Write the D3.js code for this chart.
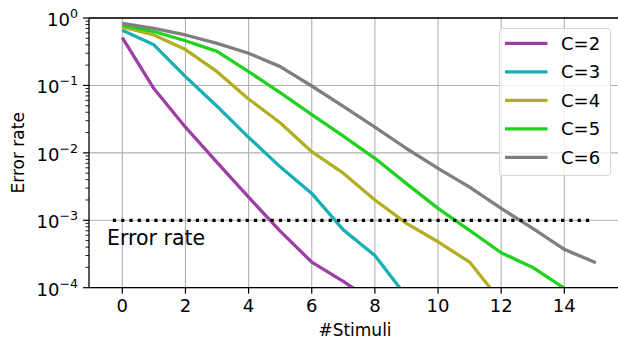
<!DOCTYPE html>
<html>
<head>
<meta charset="utf-8">
<script src="https://cdn.jsdelivr.net/npm/d3@7"></script>
<style>
  html, body { margin: 0; padding: 0; background: #fff; }
  svg { display: block; font-family: 'DejaVu Sans', sans-serif; }
</style>
</head>
<body>
<div id="chart"></div>
<script>
// error rate per number of stimuli, one array per class count
const seriesNames = ['C=2', 'C=3', 'C=4', 'C=5', 'C=6'];
const seriesColors = ['#9e3fa6', '#18afb5', '#b3ae1f', '#1fd21f', '#7f7f7f'];
const errC2 = [0.51, 0.09, 0.024, 0.0072, 0.0022, 0.00069, 0.00024, 0.000124, 0.00006];
const errC3 = [0.66, 0.40, 0.135, 0.049, 0.017, 0.0062, 0.0025, 0.00072, 0.00030, 0.000074];
const errC4 = [0.74, 0.56, 0.34, 0.16, 0.063, 0.028, 0.0104, 0.0050, 0.0020, 0.0009, 0.00048, 0.00024, 0.000062];
const errC5 = [0.79, 0.63, 0.46, 0.32, 0.16, 0.078, 0.037, 0.0177, 0.0083, 0.0035, 0.0015, 0.00071, 0.00033, 0.00020, 0.000098];
const errC6 = [0.83, 0.70, 0.56, 0.42, 0.30, 0.19, 0.098, 0.049, 0.024, 0.0116, 0.0059, 0.0031, 0.0015, 0.00076, 0.00037, 0.000235];
const allSeries = [errC2, errC3, errC4, errC5, errC6];

const threshold = 1e-3;
const thresholdSpan = [-0.3, 14.8];
const xTicks = [0, 2, 4, 6, 8, 10, 12, 14];
const yExponents = [0, -1, -2, -3, -4];

const width = 618, height = 342;
const margin = { top: 18, left: 89, bottom: 287.7, right: 618 };

const svg = d3.select('#chart').append('svg')
  .attr('width', width)
  .attr('height', height);

const x = d3.scaleLinear().domain([-1.055, 15.7]).range([margin.left, margin.right]);
const y = d3.scaleLog().domain([1e-4, 1]).range([margin.bottom, margin.top]);

svg.append('defs').append('clipPath').attr('id', 'plotClip')
  .append('rect')
  .attr('x', margin.left).attr('y', margin.top)
  .attr('width', margin.right - margin.left).attr('height', margin.bottom - margin.top);

// grid
const grid = svg.append('g').attr('stroke', '#b0b0b0').attr('stroke-width', 1.1);
grid.selectAll('line.vx').data(xTicks).join('line')
  .attr('x1', d => x(d)).attr('x2', d => x(d))
  .attr('y1', margin.top).attr('y2', margin.bottom);
grid.selectAll('line.hy').data(yExponents).join('line')
  .attr('x1', margin.left).attr('x2', margin.right)
  .attr('y1', d => y(Math.pow(10, d))).attr('y2', d => y(Math.pow(10, d)));

// series lines
const line = d3.line().x((d, i) => x(i)).y(d => y(d));
const plot = svg.append('g').attr('clip-path', 'url(#plotClip)');
plot.selectAll('path.series').data(allSeries).join('path')
  .attr('fill', 'none')
  .attr('stroke', (d, i) => seriesColors[i])
  .attr('stroke-width', 3.3)
  .attr('stroke-linejoin', 'round')
  .attr('d', line);

// threshold line
plot.append('line')
  .attr('x1', x(thresholdSpan[0])).attr('x2', x(thresholdSpan[1]))
  .attr('y1', y(threshold)).attr('y2', y(threshold))
  .attr('stroke', '#000').attr('stroke-width', 3.3)
  .attr('stroke-dasharray', '3.2,5.1');

svg.append('text')
  .attr('x', 107).attr('y', 245)
  .attr('font-size', 20.5)
  .text('Error rate');

// spines
const spines = svg.append('g').attr('stroke', '#000').attr('stroke-width', 1.3);
spines.append('line').attr('x1', margin.left).attr('x2', margin.left).attr('y1', margin.top).attr('y2', margin.bottom);
spines.append('line').attr('x1', margin.left).attr('x2', margin.right).attr('y1', margin.top).attr('y2', margin.top);
spines.append('line').attr('x1', margin.left).attr('x2', margin.right).attr('y1', margin.bottom).attr('y2', margin.bottom);

// x axis
const xAxis = svg.append('g');
xAxis.selectAll('line').data(xTicks).join('line')
  .attr('x1', d => x(d)).attr('x2', d => x(d))
  .attr('y1', margin.bottom).attr('y2', margin.bottom + 6)
  .attr('stroke', '#000').attr('stroke-width', 1.2);
xAxis.selectAll('text').data(xTicks).join('text')
  .attr('x', d => x(d)).attr('y', 311.5)
  .attr('text-anchor', 'middle')
  .attr('font-size', 18)
  .text(d => d);

// y axis (major + minor)
const minor = [];
yExponents.slice(0, -1).forEach(e => {
  for (let m = 2; m <= 9; m++) minor.push(m * Math.pow(10, e - 1));
});
const yAxis = svg.append('g');
yAxis.selectAll('line.minor').data(minor).join('line')
  .attr('x1', margin.left - 3.5).attr('x2', margin.left)
  .attr('y1', d => y(d)).attr('y2', d => y(d))
  .attr('stroke', '#000').attr('stroke-width', 0.9);
yAxis.selectAll('line.major').data(yExponents).join('line')
  .attr('x1', margin.left - 6).attr('x2', margin.left)
  .attr('y1', d => y(Math.pow(10, d))).attr('y2', d => y(Math.pow(10, d)))
  .attr('stroke', '#000').attr('stroke-width', 1.2);
const yLabels = yAxis.selectAll('text').data(yExponents).join('text')
  .attr('x', 78).attr('y', d => y(Math.pow(10, d)) + 8)
  .attr('text-anchor', 'end')
  .attr('font-size', 18);
yLabels.append('tspan').text('10');
yLabels.append('tspan')
  .attr('dy', -8)
  .attr('font-size', 12.6)
  .text(d => d === 0 ? '0' : '\u2212' + (-d));

// axis titles
svg.append('text')
  .attr('x', 355).attr('y', 335.5)
  .attr('text-anchor', 'middle')
  .attr('font-size', 17)
  .text('#Stimuli');
svg.append('text')
  .attr('transform', `translate(24,${(margin.top + margin.bottom) / 2}) rotate(-90)`)
  .attr('text-anchor', 'middle')
  .attr('font-size', 17)
  .text('Error rate');

// legend
const legend = svg.append('g');
legend.append('rect')
  .attr('x', 499.5).attr('y', 28.5)
  .attr('width', 111).attr('height', 147)
  .attr('rx', 3)
  .attr('fill', '#fff').attr('fill-opacity', 0.8)
  .attr('stroke', '#d6d6d6').attr('stroke-width', 1);
const items = legend.selectAll('g.item').data(seriesNames).join('g')
  .attr('transform', (d, i) => `translate(0,${43.3 + i * 28.5})`);
items.append('line')
  .attr('x1', 505).attr('x2', 547.5)
  .attr('stroke', (d, i) => seriesColors[i])
  .attr('stroke-width', 3.3);
items.append('text')
  .attr('x', 561).attr('y', 6.5)
  .attr('font-size', 18)
  .text(d => d);
</script>
</body>
</html>
